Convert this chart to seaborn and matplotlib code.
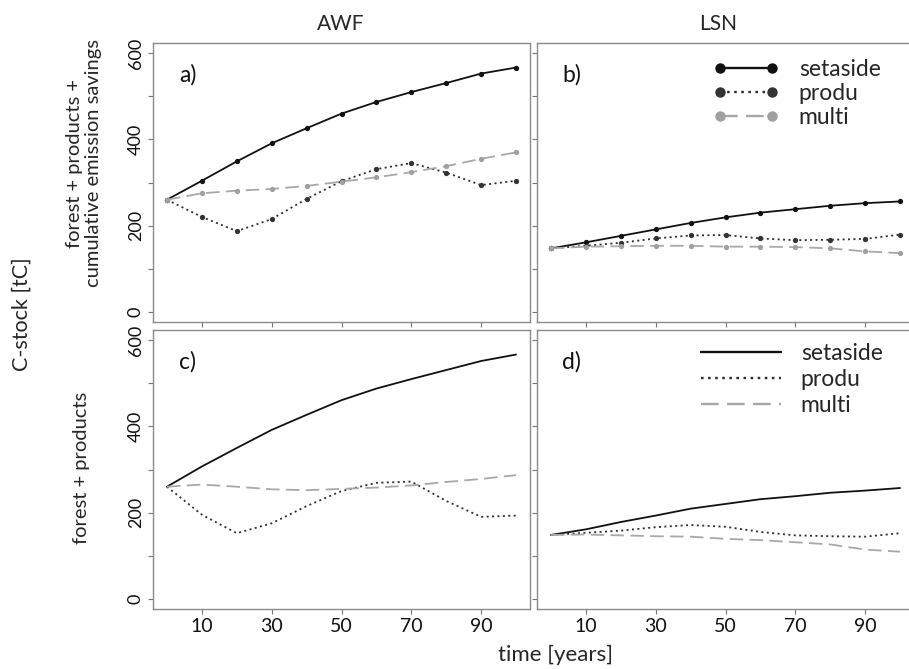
import matplotlib
matplotlib.use("Agg")
import matplotlib.pyplot as plt
from matplotlib.lines import Line2D
from matplotlib.legend_handler import HandlerLine2D
import seaborn as sns
import pandas as pd

# simulation years
years = [0, 10, 20, 30, 40, 50, 60, 70, 80, 90, 100]

# AWF: forest + products + cumulative emission savings [tC]
awf_total_setaside = [260, 304, 349, 391, 426, 460, 487, 510, 531, 553, 567]
awf_total_produ    = [260, 220, 187, 215, 262, 303, 331, 345, 323, 294, 304]
awf_total_multi    = [260, 275, 281, 285, 292, 302, 312, 324, 338, 355, 370]

# LSN: forest + products + cumulative emission savings [tC]
lsn_total_setaside = [147, 161, 176, 191, 206, 219, 230, 238, 246, 252, 256]
lsn_total_produ    = [147, 153, 160, 170, 177, 178, 170, 166, 167, 169, 179]
lsn_total_multi    = [147, 151, 152, 153, 153, 151, 151, 150, 147, 140, 136]

# AWF: forest + products [tC]
awf_fp_setaside = [260, 307, 350, 392, 427, 461, 488, 510, 531, 552, 567]
awf_fp_produ    = [260, 195, 152, 175, 215, 250, 269, 272, 227, 190, 193]
awf_fp_multi    = [260, 265, 260, 254, 252, 255, 258, 263, 271, 278, 287]

# LSN: forest + products [tC]
lsn_fp_setaside = [148, 161, 178, 193, 209, 220, 231, 238, 246, 251, 257]
lsn_fp_produ    = [148, 153, 158, 166, 171, 167, 155, 147, 145, 144, 152]
lsn_fp_multi    = [148, 149, 147, 145, 144, 139, 136, 131, 126, 114, 109]

scenarios = ["setaside", "produ", "multi"]
site_titles = ["AWF", "LSN"]
row_labels = ["forest + products +\ncumulative emission savings", "forest + products"]
panel_tags = ["a)", "b)", "c)", "d)"]
y_ticks = [0, 100, 200, 300, 400, 500, 600]
y_labels = ["0", "", "200", "", "400", "", "600"]
x_ticks = [10, 30, 50, 70, 90]

sns.set_theme(style="white")
plt.rcParams["font.family"] = ["Lato", "DejaVu Sans"]

W, H = 909, 669
fig = plt.figure(figsize=(W / 100, H / 100), dpi=100)


def px_axes(left, top, right, bottom):
    return fig.add_axes([left / W, 1 - bottom / H, (right - left) / W, (bottom - top) / H])


colors = {"setaside": "#111111", "produ": "#2e2e2e", "multi": "#a8a8a8"}
styles = {"setaside": "-", "produ": (0, (1.1, 1.9)), "multi": (0, (7.5, 3.5))}
mcolors = {"setaside": "#111111", "produ": "#333333", "multi": "#a0a0a0"}

panels = [
    ((153, 43, 530, 322), [awf_total_setaside, awf_total_produ, awf_total_multi], True),
    ((537, 43, 914, 322), [lsn_total_setaside, lsn_total_produ, lsn_total_multi], True),
    ((153, 330, 530, 609), [awf_fp_setaside, awf_fp_produ, awf_fp_multi], False),
    ((537, 330, 914, 609), [lsn_fp_setaside, lsn_fp_produ, lsn_fp_multi], False),
]

axes = []
for i, (box, series, with_markers) in enumerate(panels):
    ax = px_axes(*box)
    axes.append(ax)
    df = pd.DataFrame({"year": years})
    for name, vals in zip(scenarios, series):
        df[name] = vals
        sns.lineplot(
            data=df, x="year", y=name, ax=ax, color=colors[name],
            linestyle=styles[name], linewidth=1.3, legend=False, errorbar=None,
            marker="o" if with_markers else None, markersize=3.8,
            markeredgewidth=0, markerfacecolor=mcolors[name],
        )
    ax.set_xlim(-4, 104)
    ax.set_ylim(-24, 624)
    ax.set_xlabel("")
    ax.set_ylabel("")
    ax.set_xticks(x_ticks)
    ax.set_yticks(y_ticks)
    col = i % 2
    row = i // 2
    if col == 0:
        ax.set_yticklabels(y_labels, rotation=90, va="center", fontsize=13)
    else:
        ax.set_yticklabels([])
    if row == 1:
        ax.set_xticklabels([str(t) for t in x_ticks], fontsize=14)
    else:
        ax.set_xticklabels([])
    ax.tick_params(axis="both", direction="out", length=3.5, width=0.8,
                   color="#777777", labelcolor="#111111", pad=3,
                   bottom=True, left=True)
    for sp in ax.spines.values():
        sp.set_color("#8a8a8a")
        sp.set_linewidth(1.0)
    ax.text(0.092, 0.885, panel_tags[i], transform=ax.transAxes, fontsize=16.5,
            ha="center", va="center", color="#111111")

# legend with markers in the upper-right panel
h_mark = [
    Line2D([], [], color=colors[n], linestyle=styles[n], linewidth=1.7,
           marker="o", markersize=7.5, markeredgewidth=0, markerfacecolor=mcolors[n])
    for n in scenarios
]
axes[1].legend(
    h_mark, scenarios, loc="upper left",
    bbox_to_anchor=(706 / W, 1 - 59 / H), bbox_transform=fig.transFigure,
    frameon=False, fontsize=16.5, handlelength=3.5, handletextpad=0.55,
    labelspacing=0.14, borderpad=0, borderaxespad=0, numpoints=2,
    handler_map={Line2D: HandlerLine2D(marker_pad=0.6)},
)

# legend without markers in the lower-right panel
h_line = [
    Line2D([], [], color=colors[n], linestyle=styles[n], linewidth=1.7)
    for n in scenarios
]
axes[3].legend(
    h_line, scenarios, loc="upper left",
    bbox_to_anchor=(701 / W, 1 - 343 / H), bbox_transform=fig.transFigure,
    frameon=False, fontsize=16.5, handlelength=3.5, handletextpad=0.85,
    labelspacing=0.22, borderpad=0, borderaxespad=0,
)

# column titles and shared labels
fig.text(341 / W, 1 - 24 / H, site_titles[0], ha="center", va="center", fontsize=15)
fig.text(718 / W, 1 - 24 / H, site_titles[1], ha="center", va="center", fontsize=15)
fig.text(555 / W, 1 - 655 / H, "time [years]", ha="center", va="center", fontsize=16)
fig.text(22 / W, 1 - 314 / H, "C-stock [tC]", ha="center", va="center",
         rotation=90, fontsize=15.5)
fig.text(84 / W, 1 - 163 / H, row_labels[0], ha="center", va="center",
         rotation=90, fontsize=14.5, linespacing=1.1, multialignment="center")
fig.text(82 / W, 1 - 468 / H, row_labels[1], ha="center", va="center",
         rotation=90, fontsize=14.5)

fig.savefig("out.png", dpi=100, facecolor="white")
